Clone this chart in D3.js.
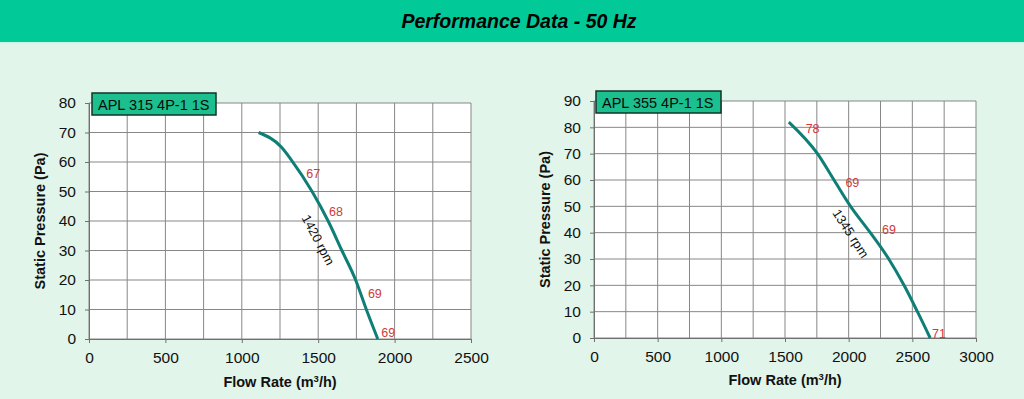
<!DOCTYPE html>
<html><head><meta charset="utf-8">
<script src="https://cdn.jsdelivr.net/npm/d3@7"></script>
<style>
html,body{margin:0;padding:0;background:#e1f5ea;}
svg{display:block;font-family:"Liberation Sans",Arial,sans-serif;}
</style></head><body>
<svg id="c" width="1024" height="399"></svg>
<script>
// ---- data ----
const title = "Performance Data - 50 Hz";
const modelNames = ["APL 315 4P-1 1S", "APL 355 4P-1 1S"];
const speedLabels = ["1420 rpm", "1345 rpm"];
const xMax = [2500, 3000];
const yMax = [80, 90];
const xTicks1 = [0, 500, 1000, 1500, 2000, 2500];
const xTicks2 = [0, 500, 1000, 1500, 2000, 2500, 3000];
const yTicks1 = [0, 10, 20, 30, 40, 50, 60, 70, 80];
const yTicks2 = [0, 10, 20, 30, 40, 50, 60, 70, 80, 90];
const flow1 = [1110, 1260, 1320, 1460, 1565, 1655, 1745, 1815, 1890];
const press1 = [70, 65, 61, 50, 40, 30, 20, 10, 0];
const flow2 = [1530, 1755, 1885, 2015, 2170, 2315, 2435, 2540, 2640];
const press2 = [82, 70, 60, 50, 40, 30, 20, 10, 0];
const noise1 = ["67", "68", "69", "69"];
const noiseX1 = [1467, 1616, 1871, 1958];
const noiseY1 = [56.2, 43.2, 15.3, 2.2];
const noise2 = ["78", "69", "69", "71"];
const noiseX2 = [1717, 2029, 2317, 2709];
const noiseY2 = [79.6, 58.9, 41.2, 1.6];
const rpmPos1 = [1500, 33.6];
const rpmPos2 = [2016, 39.7];

const svg = d3.select("#c");
// header
svg.append("rect").attr("x",0).attr("y",0).attr("width",1024).attr("height",42).attr("fill","#02c998");
svg.append("rect").attr("x",0).attr("y",42).attr("width",1024).attr("height",1.5).attr("fill","#c8f3e3");
svg.append("text").attr("x",519).attr("y",28).attr("text-anchor","middle")
  .attr("font-size",19.5).attr("font-weight","bold").attr("font-style","italic").attr("fill","#000")
  .text(title);

const charts = [
  {L:89,R:471,T:103,B:339, xMax:xMax[0], yMax:yMax[0], xt:xTicks1, yt:yTicks1, fx:flow1, py:press1,
   nl:noise1, nx:noiseX1, ny:noiseY1, name:modelNames[0], rpm:speedLabels[0], rp:rpmPos1, ang:62,
   ytx:40, xty:387, box:[92,93,124,22]},
  {L:594,R:976,T:101,B:338, xMax:xMax[1], yMax:yMax[1], xt:xTicks2, yt:yTicks2, fx:flow2, py:press2,
   nl:noise2, nx:noiseX2, ny:noiseY2, name:modelNames[1], rpm:speedLabels[1], rp:rpmPos2, ang:57,
   ytx:545, xty:385, box:[596,91,125,22]}
];

charts.forEach(c => {
  const x = d3.scaleLinear().domain([0,c.xMax]).range([c.L,c.R]);
  const y = d3.scaleLinear().domain([0,c.yMax]).range([c.B,c.T]);
  const g = svg.append("g");
  g.append("rect").attr("x",c.L).attr("y",c.T).attr("width",c.R-c.L).attr("height",c.B-c.T).attr("fill","#fff");
  // grid
  const vx = d3.range(0, c.xMax+1, 250);
  g.selectAll(".vg").data(vx).enter().append("line")
    .attr("x1",d=>x(d)).attr("x2",d=>x(d)).attr("y1",c.T).attr("y2",c.B)
    .attr("stroke","#878787").attr("stroke-width",1);
  g.selectAll(".hg").data(c.yt).enter().append("line")
    .attr("x1",c.L).attr("x2",c.R).attr("y1",d=>y(d)).attr("y2",d=>y(d))
    .attr("stroke","#878787").attr("stroke-width",1);
  // axes
  const xa = g.append("g").attr("transform",`translate(0,${c.B})`)
    .call(d3.axisBottom(x).tickValues(c.xt).tickSize(4).tickPadding(9).tickFormat(d3.format("d")));
  const ya = g.append("g").attr("transform",`translate(${c.L},0)`)
    .call(d3.axisLeft(y).tickValues(c.yt).tickSize(4).tickPadding(9).tickFormat(d3.format("d")));
  [xa,ya].forEach(a=>{
    a.select(".domain").attr("stroke","#707070");
    a.selectAll(".tick line").attr("stroke","#707070");
    a.selectAll("text").attr("font-size",15.5).attr("fill","#111").attr("font-family","Liberation Sans, Arial, sans-serif");
  });
  // curve
  const pts = c.fx.map((v,i)=>[v,c.py[i]]);
  g.append("path").datum(pts)
    .attr("d", d3.line().x(d=>x(d[0])).y(d=>y(d[1])).curve(d3.curveMonotoneX))
    .attr("fill","none").attr("stroke","#0e7f76").attr("stroke-width",3);
  // noise labels
  g.selectAll(".nl").data(c.nl).enter().append("text")
    .attr("x",(d,i)=>x(c.nx[i])).attr("y",(d,i)=>y(c.ny[i])+4.5)
    .attr("text-anchor","middle").attr("font-size",12.5).attr("fill","#d03a3a").text(d=>d);
  // rpm label
  g.append("text").attr("transform",`translate(${x(c.rp[0])},${y(c.rp[1])}) rotate(${c.ang})`)
    .attr("text-anchor","middle").attr("dy","0.35em").attr("font-size",13).attr("fill","#111").text(c.rpm);
  // model box
  g.append("rect").attr("x",c.box[0]).attr("y",c.box[1]).attr("width",c.box[2]).attr("height",c.box[3])
    .attr("fill","#1cbf8e").attr("stroke","#13332a").attr("stroke-width",1.5);
  g.append("text").attr("x",c.box[0]+6).attr("y",c.box[1]+16.5)
    .attr("font-size",14.5).attr("fill","#0a0a0a").text(c.name);
  // axis titles
  g.append("text").attr("transform",`translate(${c.ytx+5},${(c.T+c.B)/2}) rotate(-90)`)
    .attr("text-anchor","middle").attr("font-size",14.5).attr("font-weight","bold").attr("fill","#111")
    .text("Static Pressure (Pa)");
  const xt = g.append("text").attr("x",(c.L+c.R)/2).attr("y",c.xty)
    .attr("text-anchor","middle").attr("font-size",14.5).attr("font-weight","bold").attr("fill","#111");
  xt.append("tspan").text("Flow Rate (m");
  xt.append("tspan").attr("font-size",9.5).attr("dy",-5).text("3");
  xt.append("tspan").attr("dy",5).text("/h)");
});
</script>
</body></html>
